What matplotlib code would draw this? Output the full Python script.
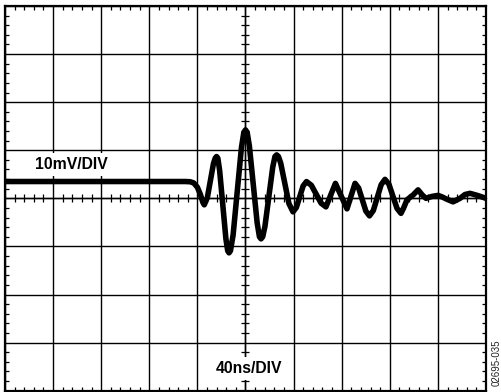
import matplotlib
matplotlib.use("Agg")
import matplotlib.pyplot as plt
from matplotlib.ticker import MultipleLocator

# Waveform: time (ns), voltage (mV)
time_ns = [0, 150, 154, 157, 160, 162.5, 164.5, 165.7,
           168.25, 170.8, 173.35, 174.8, 175.9, 177.0,
           178.5, 181.1, 183.7, 185.2, 186.3, 187.5,
           189.7, 193.15, 196.6, 198.6, 200.0, 201.4,
           203.2, 206.45, 209.7, 211.6, 212.9, 214.3,
           216.15, 219.4, 222.65, 224.5, 225.9, 227.4,
           229.3, 232.7, 236.1, 239.5,
           242.3, 245.1, 247.9, 250.7,
           254.75, 258.8, 262.85, 266.9,
           270.85, 274.8, 279.6, 284.4, 287.75, 291.1,
           294.1, 297.1, 300.1, 303.1,
           306.3, 309.55, 312.8, 316.0,
           319.3, 322.65, 326.0, 329.3,
           331.5, 334.3, 339.5, 343.5, 347, 350.1, 355, 360.1, 363.5,
           366.7, 372.6, 378.4, 382.5, 386.7, 393, 400]
volt_mv = [3.5, 3.5, 3.45, 3.2, 2.3, 0.8, -0.8, -1.35,
           0.12, 3.67, 7.22, 8.35, 8.69, 8.35,
           5.77, -1.32, -8.41, -10.9, -11.33, -10.9,
           -7.60, 1.46, 10.51, 13.7, 14.24, 13.7,
           10.93, 2.91, -5.11, -8.0, -8.42, -8.0,
           -5.87, 0.31, 6.49, 8.7, 9.04, 8.7,
           7.31, 3.12, -1.08, -2.81,
           -1.89, 0.34, 2.57, 3.49,
           2.72, 0.86, -1.0, -1.77,
           0.68, 3.12, 0.47, -2.18, 0.47, 3.12,
           2.13, -0.26, -2.65, -3.64,
           -2.53, 0.16, 2.84, 3.95,
           2.92, 0.41, -2.09, -3.12,
           -2.0, -0.3, 0.73, 1.77, 0.7, 0.0, 0.4, 0.62, 0.3,
           -0.1, -0.73, 0.0, 0.8, 1.04, 0.6, 0.0]

x_label = "40ns/DIV"
y_label = "10mV/DIV"
code_label = "02695-035"

W, H = 502, 392
fig = plt.figure(figsize=(W / 100, H / 100), dpi=100)
rect = [5 / W, 1 - 390.7 / H, (486 - 5) / W, (390.7 - 6) / H]
ax = fig.add_axes(rect)
ax.set_xlim(0, 400)
ax.set_ylim(-40, 40)
ax.xaxis.set_major_locator(MultipleLocator(40))
ax.yaxis.set_major_locator(MultipleLocator(10))
ax.xaxis.set_minor_locator(MultipleLocator(8))
ax.yaxis.set_minor_locator(MultipleLocator(2))
ax.grid(which="major", color="black", linewidth=1.0)
ax.tick_params(which="major", length=0, labelbottom=False, labelleft=False)
ax.tick_params(which="minor", direction="in", length=3.2, width=0.9,
               top=True, right=True, bottom=True, left=True, color="black")
for s in ax.spines.values():
    s.set_linewidth(1.6)
ax.plot(time_ns, volt_mv, color="black", linewidth=4.0, solid_capstyle="round",
        solid_joinstyle="round", zorder=3)

# centre axes with ticks
ax2 = fig.add_axes(rect, frameon=True)
ax2.patch.set_alpha(0)
ax2.set_xlim(0, 400)
ax2.set_ylim(-40, 40)
ax2.spines["top"].set_visible(False)
ax2.spines["right"].set_visible(False)
ax2.spines["left"].set_position(("data", 200))
ax2.spines["bottom"].set_position(("data", 0))
for s in ("left", "bottom"):
    ax2.spines[s].set_linewidth(1.0)
ax2.xaxis.set_major_locator(MultipleLocator(40))
ax2.yaxis.set_major_locator(MultipleLocator(10))
ax2.xaxis.set_minor_locator(MultipleLocator(8))
ax2.yaxis.set_minor_locator(MultipleLocator(2))
ax2.tick_params(which="major", length=0, labelbottom=False, labelleft=False)
ax2.tick_params(which="minor", direction="inout", length=6, width=0.9, color="black")

box = dict(facecolor="white", edgecolor="none", pad=3)
ax2.text(55.3, 7.0, y_label, ha="center", va="center", fontsize=11.3,
         fontweight="bold", family="Liberation Sans", bbox=box, zorder=5)
ax2.text(203, -35.4, x_label, ha="center", va="center", fontsize=11.3,
         fontweight="bold", family="Liberation Sans", bbox=box, zorder=5)

fig.text(497 / W, 1 - 363 / H, code_label, rotation=90, ha="center", va="center",
         fontsize=7, family="Liberation Sans", color="#222222")

fig.savefig("out.png", dpi=100)
